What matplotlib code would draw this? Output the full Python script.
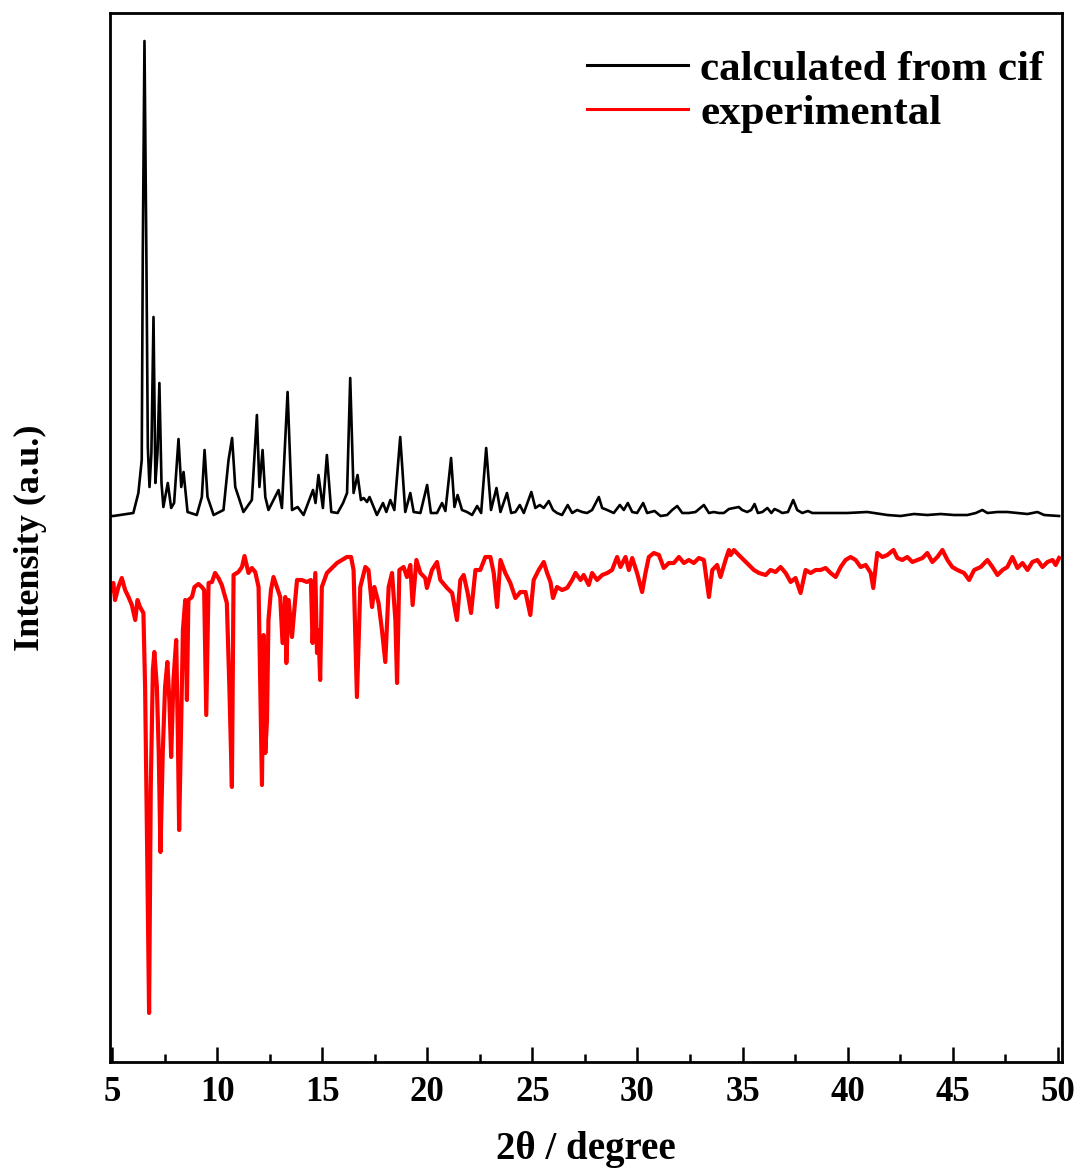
import matplotlib
matplotlib.use("Agg")
import matplotlib.pyplot as plt
from matplotlib.ticker import MultipleLocator
import numpy as np

# ---- calculated pattern (from cif): 2theta (deg), intensity above baseline (a.u.)
calc_2theta = [4.90, 5.06, 6.01, 6.25, 6.41, 6.46, 6.54, 6.63, 6.70, 6.78, 6.87, 6.97, 7.06, 7.16,
               7.25, 7.35, 7.44, 7.65, 7.81, 7.95, 8.16, 8.29, 8.40, 8.59, 9.03, 9.27, 9.40, 9.54,
               9.83, 10.30, 10.54, 10.71, 10.86, 11.25, 11.65, 11.89, 12.01, 12.16, 12.29, 12.44,
               12.92, 13.08, 13.35, 13.56, 13.83, 14.11, 14.56, 14.68, 14.82, 15.03, 15.22, 15.43,
               15.73, 15.99, 16.18, 16.33, 16.49, 16.68, 16.84, 16.97, 17.13, 17.25, 17.60, 17.89,
               18.05, 18.24, 18.43, 18.71, 18.95, 19.19, 19.35, 19.67, 19.99, 20.17, 20.46, 20.70,
               20.86, 21.13, 21.29, 21.44, 21.65, 21.89, 22.13, 22.37, 22.56, 22.80, 23.03, 23.29,
               23.48, 23.79, 23.99, 24.19, 24.40, 24.59, 24.95, 25.14, 25.35, 25.54, 25.78, 25.98,
               26.17, 26.41, 26.68, 26.89, 27.13, 27.37, 27.60, 27.84, 28.16, 28.32, 28.56, 28.87,
               29.16, 29.35, 29.54, 29.75, 29.98, 30.27, 30.46, 30.81, 31.10, 31.41, 31.65, 31.89,
               32.13, 32.44, 32.76, 33.16, 33.40, 33.63, 33.87, 34.11, 34.35, 34.59, 34.82, 34.98,
               35.22, 35.41, 35.57, 35.73, 35.94, 36.18, 36.37, 36.52, 36.73, 36.89, 37.16, 37.41,
               37.60, 37.84, 38.11, 38.32, 39.03, 39.98, 40.94, 41.89, 42.52, 43.16, 43.79, 44.43,
               45.06, 45.70, 46.10, 46.41, 46.65, 47.13, 47.60, 48.08, 48.56, 49.03, 49.35, 50.06]
calc_int = [0, 0, 3, 23, 56, 263, 475, 263, 69, 29, 63, 199, 33, 63,
            133, 33, 9, 33, 8, 13, 77, 29, 44, 4, 1, 19, 66, 19,
            1, 6, 56, 78, 29, 4, 16, 101, 29, 66, 19, 6,
            26, 8, 124, 6, 9, 1, 26, 13, 41, 8, 61, 4,
            3, 13, 23, 138, 23, 41, 16, 18, 14, 19, 1, 13,
            4, 16, 6, 79, 4, 23, 4, 3, 31, 3, 3, 13,
            5, 58, 9, 21, 6, 4, 1, 10, 3, 68, 6, 28,
            4, 23, 3, 4, 11, 3, 24, 8, 11, 8, 15, 6,
            3, 1, 11, 3, 6, 4, 3, 6, 19, 8, 6, 3,
            11, 6, 13, 4, 3, 13, 3, 5, 0, 1, 6, 10,
            3, 3, 4, 11, 3, 4, 3, 3, 7, 8, 9, 6,
            4, 6, 12, 3, 4, 8, 3, 7, 5, 3, 4, 16,
            6, 3, 5, 3, 3, 3, 4, 1, 0, 2, 1, 2,
            1, 1, 3, 6, 3, 4, 4, 3, 2, 4, 1, 0]
calc_offset = 546

# ---- experimental pattern (plotted inverted below): 2theta (deg), plotted level (a.u.)
exp_2theta = [4.95, 5.06, 5.14, 5.30, 5.46, 5.62, 5.78, 5.94, 6.10, 6.21, 6.33, 6.49, 6.57, 6.65,
              6.76, 6.84, 6.94, 7.01, 7.13, 7.22, 7.30, 7.41, 7.52, 7.63, 7.73, 7.81, 7.92,
              8.05, 8.13, 8.19, 8.29, 8.37, 8.48, 8.56, 8.63, 8.80, 8.92, 9.11, 9.27, 9.38,
              9.48, 9.59, 9.75, 9.90, 10.06, 10.22, 10.46, 10.58, 10.70, 10.78, 11.01, 11.18,
              11.30, 11.49, 11.65, 11.81, 11.97, 12.05, 12.13, 12.21, 12.29, 12.37, 12.44,
              12.56, 12.68, 12.84, 13.00, 13.11, 13.24, 13.29, 13.40, 13.56, 13.67, 13.80,
              14.03, 14.27, 14.46, 14.54, 14.67, 14.75, 14.82, 14.90, 14.98, 15.22, 15.46,
              15.70, 15.94, 16.17, 16.37, 16.49, 16.65, 16.81, 17.05, 17.20, 17.37, 17.48,
              17.68, 17.84, 18.00, 18.16, 18.32, 18.48, 18.56, 18.67, 18.87, 19.03, 19.19,
              19.30, 19.48, 19.67, 19.90, 19.98, 20.22, 20.46, 20.62, 20.94, 21.18, 21.41,
              21.57, 21.73, 21.92, 22.08, 22.29, 22.52, 22.76, 23.00, 23.16, 23.32, 23.48,
              23.71, 23.95, 24.19, 24.43, 24.67, 24.90, 25.06, 25.30, 25.54, 25.70, 25.86,
              25.98, 26.17, 26.41, 26.65, 26.89, 27.05, 27.29, 27.44, 27.68, 27.84, 28.08,
              28.32, 28.56, 28.79, 29.03, 29.19, 29.43, 29.59, 29.75, 29.98, 30.22, 30.38,
              30.54, 30.78, 31.02, 31.25, 31.49, 31.73, 31.97, 32.21, 32.44, 32.68, 32.92,
              33.16, 33.40, 33.56, 33.79, 33.95, 34.19, 34.35, 34.43, 34.59, 34.82, 35.06,
              35.30, 35.54, 35.78, 36.10, 36.33, 36.57, 36.81, 37.05, 37.29, 37.52, 37.76,
              38.00, 38.24, 38.48, 38.71, 38.95, 39.19, 39.43, 39.67, 39.90, 40.14, 40.38,
              40.62, 40.86, 41.10, 41.22, 41.41, 41.65, 41.89, 42.18, 42.37, 42.60, 42.84,
              43.08, 43.32, 43.56, 43.79, 44.03, 44.27, 44.51, 44.75, 44.98, 45.22, 45.54,
              45.78, 46.02, 46.33, 46.65, 46.89, 47.13, 47.37, 47.60, 47.84, 48.08, 48.32,
              48.56, 48.79, 49.03, 49.27, 49.51, 49.75, 49.90, 50.06]
exp_level = [472, 479, 462, 475, 484, 472, 465, 457, 442, 462, 455, 449, 375, 242,
             49, 275, 392, 410, 375, 309, 210, 309, 375, 400, 359, 305, 382,
             422, 325, 232, 342, 432, 462, 362, 462, 465, 475, 478, 475, 472,
             347, 479, 480, 489, 484, 477, 459, 375, 275, 487, 490, 495,
             506, 489, 494, 490, 475, 375, 277, 427, 309, 342, 442,
             472, 485, 475, 465, 419, 465, 399, 462, 425, 452, 482,
             482, 480, 482, 419, 489, 409, 432, 382, 475, 489, 494,
             499, 502, 505, 505, 492, 365, 475, 495, 492, 455, 475,
             459, 432, 400, 475, 489, 442, 379, 492, 495, 485, 497,
             457, 502, 489, 484, 474, 492, 500, 482, 474, 469, 442,
             482, 487, 469, 449, 492, 492, 505, 505, 489, 455, 502,
             489, 479, 464, 470, 470, 447, 482, 492, 500, 489, 480,
             464, 475, 472, 474, 482, 489, 482, 487, 477, 489, 482,
             487, 489, 492, 505, 495, 505, 492, 504, 489, 470, 489,
             505, 509, 507, 494, 499, 499, 505, 499, 502, 499, 504,
             502, 465, 492, 497, 485, 502, 512, 507, 512, 507, 502,
             497, 492, 489, 487, 492, 490, 495, 489, 480, 484, 469,
             492, 489, 492, 492, 494, 489, 485, 495, 502, 505, 502,
             495, 497, 489, 474, 509, 505, 507, 512, 504, 502, 505,
             500, 502, 504, 509, 500, 505, 512, 502, 495, 492, 489,
             482, 492, 495, 502, 495, 487, 492, 495, 505, 494, 499,
             492, 500, 502, 495, 500, 502, 497, 504]

xticks_major = [5, 10, 15, 20, 25, 30, 35, 40, 45, 50]
legend_labels = ["calculated from cif", "experimental"]

serif = ["Liberation Serif", "DejaVu Serif"]
plt.rcParams["font.family"] = serif
plt.rcParams["font.weight"] = "bold"

fig = plt.figure(figsize=(10.81, 11.69), dpi=100)
ax = fig.add_axes([110 / 1081, 1 - 1062 / 1169, (1062 - 110) / 1081, (1062 - 13) / 1169])

calc_y = np.array(calc_int) + calc_offset
ax.plot(calc_2theta, calc_y, color="black", lw=1.9, solid_joinstyle="round",
        label=legend_labels[0])
ax.plot(exp_2theta, exp_level, color="#ff0000", lw=3.0, solid_joinstyle="round",
        label=legend_labels[1])

ax.set_xlim(4.9, 50.2)
ax.set_ylim(0, 1049)
ax.set_xticks(xticks_major)
ax.xaxis.set_minor_locator(MultipleLocator(2.5))
ax.set_yticks([])
ax.tick_params(axis="x", which="major", direction="in", length=11, width=1.8,
               labelsize=25, pad=10, top=False)
ax.tick_params(axis="x", which="minor", direction="in", length=6, width=1.8, top=False)
for lab in ax.get_xticklabels():
    lab.set_fontweight("bold")
for sp in ax.spines.values():
    sp.set_linewidth(2.0)

ax.set_xlabel("2θ / degree", fontsize=28, fontweight="bold")
ax.xaxis.set_label_coords(0.5, -0.066)
ax.set_ylabel("Intensity (a.u.)", fontsize=26, fontweight="bold")
ax.yaxis.set_label_coords(-0.066, 0.5)

leg = ax.legend(loc="upper left", bbox_to_anchor=(587 / 1081, 1 - 50 / 1169),
                bbox_transform=fig.transFigure, frameon=False,
                prop={"family": serif, "weight": "bold", "size": 31},
                handlelength=2.35, handletextpad=0.28, labelspacing=0.12,
                borderpad=0, borderaxespad=0)
for line in leg.get_lines():
    line.set_linewidth(2.2)

fig.savefig("out.png", dpi=100)
